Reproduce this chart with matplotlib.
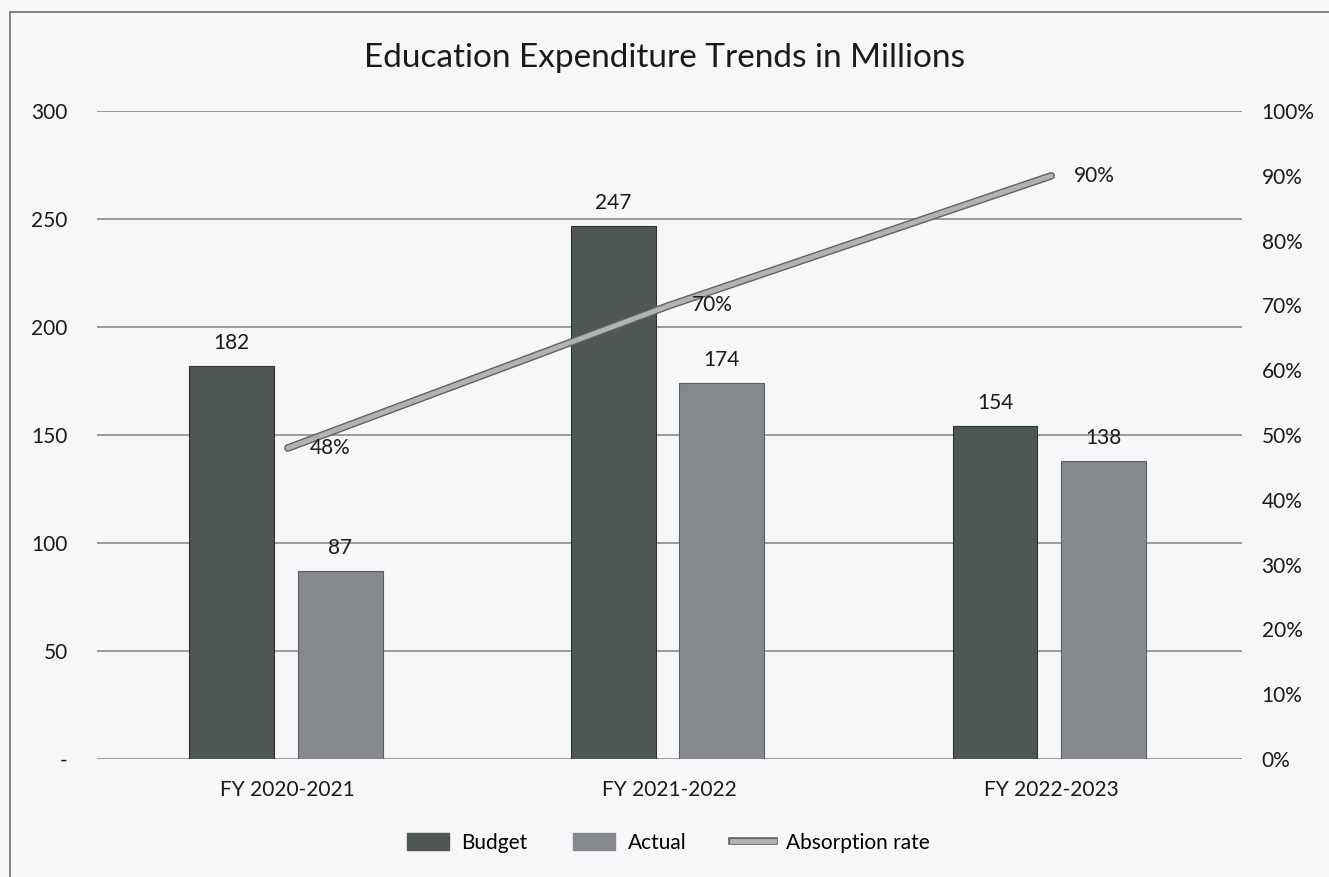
import matplotlib
matplotlib.use("Agg")
import matplotlib.pyplot as plt
import matplotlib.patheffects as pe
from matplotlib.lines import Line2D
from matplotlib.patches import Rectangle
import numpy as np

plt.rcParams["font.family"] = ["Lato", "DejaVu Sans"]

years = ["FY 2020-2021", "FY 2021-2022", "FY 2022-2023"]
budget = [182, 247, 154]
actual = [87, 174, 138]
absorption = [48, 70, 90]  # percent

BG = "#f7f7fa"
BUDGET_COLOR = "#4f5754"
ACTUAL_COLOR = "#86898b"
LINE_COLOR = "#b0b2b3"
LINE_EDGE = "#5f6263"
GRID = "#8a8a8a"
TEXT = "#1a1a1a"
FS = 15


def main():
    fig = plt.figure(figsize=(13.29, 8.77), dpi=100, facecolor=BG)

    # top and left edges of the chart object frame
    fx, fy = 10 / 1329, 1 - 12 / 877
    fig.add_artist(Line2D([fx, fx], [0, fy], transform=fig.transFigure,
                          color="#7a7a7a", linewidth=1.3))
    fig.add_artist(Line2D([fx, 1], [fy, fy], transform=fig.transFigure,
                          color="#7a7a7a", linewidth=1.3))

    ax = fig.add_axes([0.073, 0.1345, 0.8616, 0.7389])
    ax.set_facecolor("none")
    x = np.arange(len(years))
    w = 0.222

    ax.bar(x - 0.147, budget, w, color=BUDGET_COLOR, edgecolor="#2f3432",
           linewidth=0.8, zorder=2, label="Budget")
    ax.bar(x + 0.137, actual, w, color=ACTUAL_COLOR, edgecolor="#5d6062",
           linewidth=0.8, zorder=2, label="Actual")

    for xi, b, a in zip(x, budget, actual):
        ax.text(xi - 0.147, b + 6, f"{b}", ha="center", va="bottom",
                fontsize=FS, color=TEXT)
        ax.text(xi + 0.137, a + 6, f"{a}", ha="center", va="bottom",
                fontsize=FS, color=TEXT)

    ax.set_xlim(-0.5, 2.5)
    ax.set_ylim(0, 300)
    ax.set_yticks(range(0, 301, 50))
    ax.set_yticklabels(["-"] + [str(v) for v in range(50, 301, 50)])
    ax.set_xticks(x)
    ax.set_xticklabels(years)
    ax.grid(axis="y", color=GRID, linewidth=1.2, zorder=0)
    ax.tick_params(axis="y", length=0, pad=21, labelsize=FS, labelcolor=TEXT)
    ax.tick_params(axis="x", length=0, pad=15, labelsize=FS, labelcolor=TEXT)
    for s in ax.spines.values():
        s.set_visible(False)

    # absorption rate on the secondary axis
    ax2 = ax.twinx()
    ax2.set_ylim(0, 100)
    ax2.set_yticks(range(0, 101, 10))
    ax2.set_yticklabels([f"{v}%" for v in range(0, 101, 10)])
    ax2.tick_params(axis="y", length=0, pad=14, labelsize=FS, labelcolor=TEXT)
    for s in ax2.spines.values():
        s.set_visible(False)
    line_fx = [pe.Stroke(linewidth=5.5, foreground=LINE_EDGE), pe.Normal()]
    ax2.plot(x, absorption, color=LINE_COLOR, linewidth=3.5,
             solid_capstyle="round", zorder=3, path_effects=line_fx)
    for xi, r in zip(x, absorption):
        ax2.annotate(f"{r}%", (xi, r), xytext=(16, 0),
                     textcoords="offset points", ha="left", va="center",
                     fontsize=FS, color=TEXT)

    fig.text(0.50, 0.934, "Education Expenditure Trends in Millions",
             ha="center", va="center", fontsize=24, color=TEXT)

    handles = [
        Rectangle((0, 0), 1, 1, color=BUDGET_COLOR),
        Rectangle((0, 0), 1, 1, color=ACTUAL_COLOR),
        Line2D([0], [0], color=LINE_COLOR, linewidth=3.5,
               path_effects=line_fx),
    ]
    fig.legend(handles, ["Budget", "Actual", "Absorption rate"],
               loc="center", bbox_to_anchor=(0.503, 0.039), ncol=3,
               frameon=False, fontsize=FS, handlelength=2.0,
               handleheight=0.9, columnspacing=2.2, handletextpad=0.6)

    fig.savefig("out.png", dpi=100, facecolor=BG)


if __name__ == "__main__":
    main()
